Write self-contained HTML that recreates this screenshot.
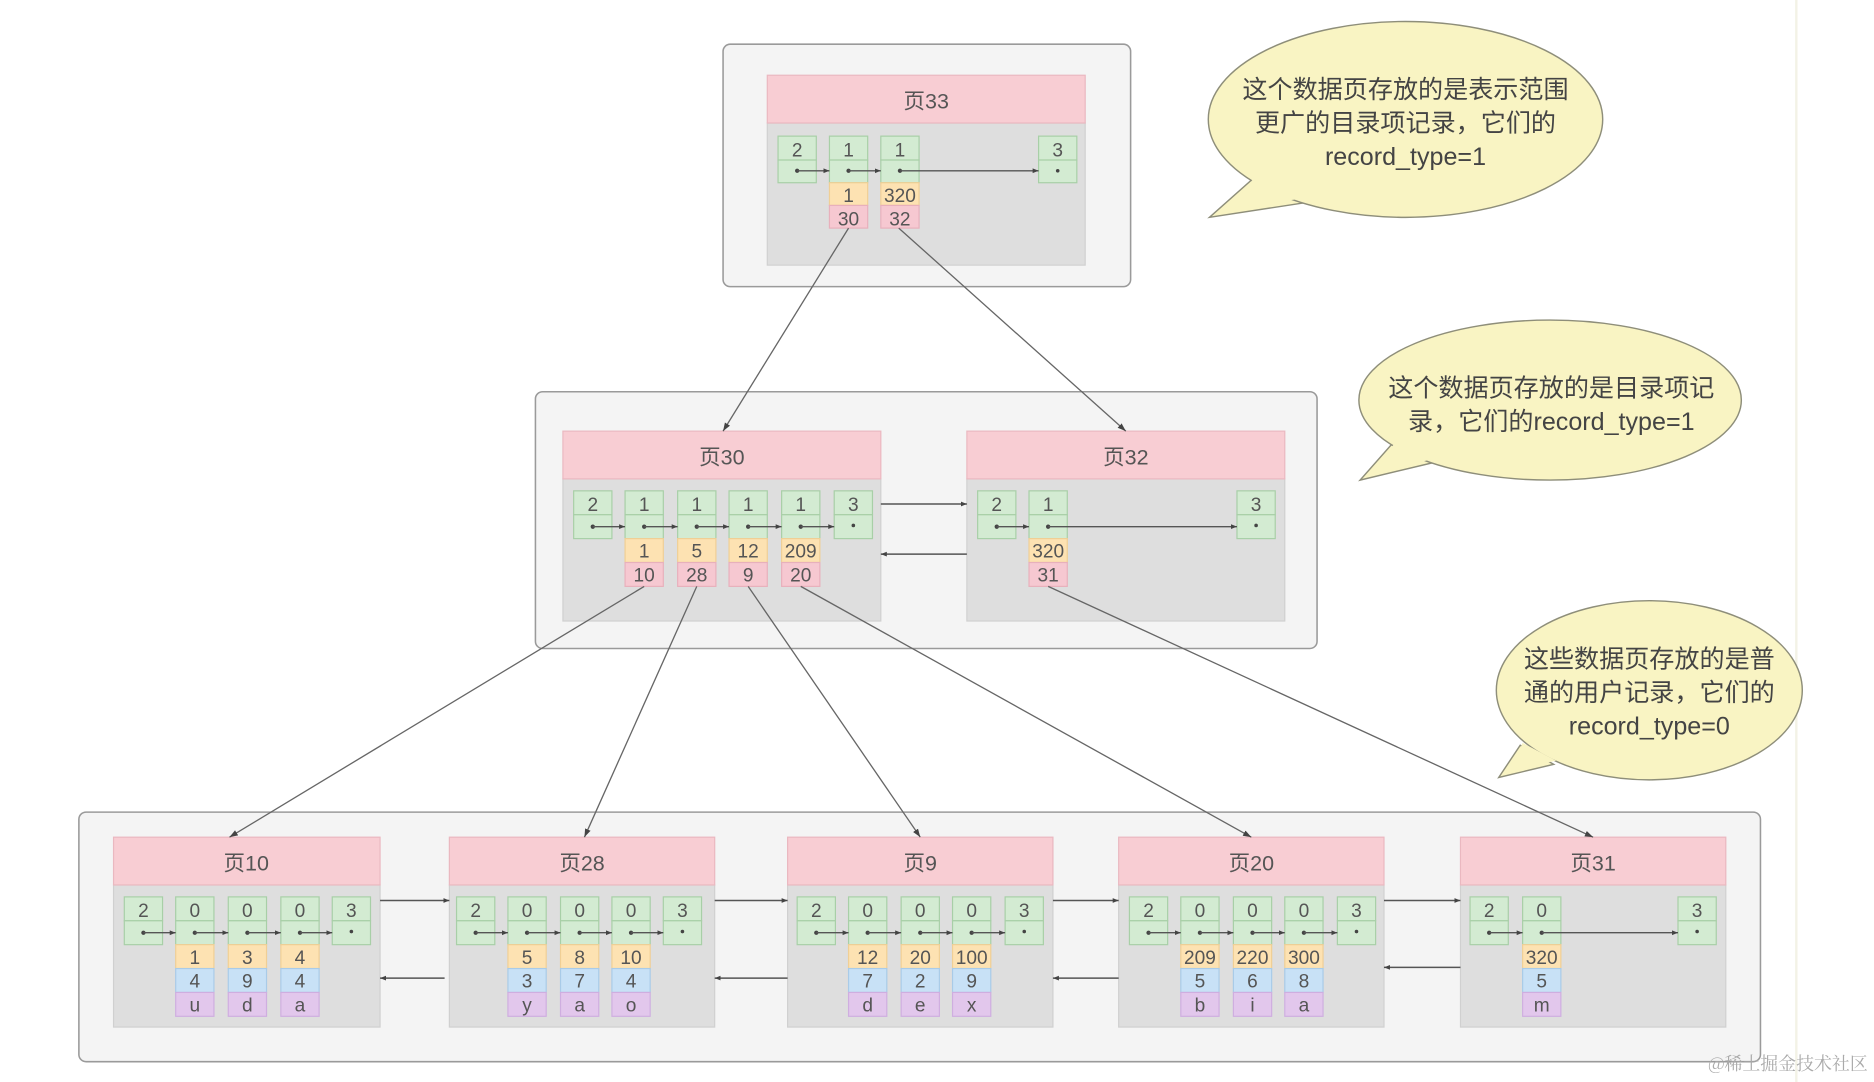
<!DOCTYPE html>
<html><head><meta charset="utf-8">
<style>
html,body{margin:0;padding:0;background:#fff;}
svg{display:block;}
text{font-family:"Liberation Sans","Noto Sans CJK SC",sans-serif;}
.n{font-size:16px;fill:#555;text-anchor:middle;}
.h{font-size:18px;fill:#555;text-anchor:middle;}
.b{font-size:21px;fill:#444;text-anchor:middle;}
.g{fill:#d3ebd2;stroke:#a8cfa7;stroke-width:1;}
.y{fill:#fde2b2;stroke:#f0cf95;stroke-width:1;}
.p{fill:#f6c8d1;stroke:#e8b0bc;stroke-width:1;}
.bl{fill:#c8e1f6;stroke:#a9cbe8;stroke-width:1;}
.pu{fill:#e2c7ec;stroke:#cfaee0;stroke-width:1;}
.l{stroke:#555;stroke-width:1.2;fill:none;}
.c{stroke:#666;stroke-width:1.1;fill:none;}
.bf{fill:#f9f4c3;stroke:#8e8e7a;stroke-width:1.2;}
.bn{fill:#f9f4c3;stroke:none;}
</style></head><body>
<svg width="1874" height="1082" viewBox="0 0 1568 906" preserveAspectRatio="none" xmlns="http://www.w3.org/2000/svg">
<defs>
<marker id="a" markerWidth="8" markerHeight="8" refX="7" refY="4" orient="auto" markerUnits="userSpaceOnUse"><path d="M0,1.5 L7,4 L0,6.5z" fill="#444"/></marker>
<marker id="s" markerWidth="6" markerHeight="6" refX="5" refY="3" orient="auto" markerUnits="userSpaceOnUse"><path d="M0,1 L5,3 L0,5z" fill="#444"/></marker>
</defs>
<rect x="0" y="0" width="1568" height="906" fill="#fff"/>
<line x1="1503" y1="0" x2="1503" y2="906" stroke="#f3f2e6" stroke-width="2"/>

<!-- outer boxes -->
<rect x="605" y="37" width="341" height="203" rx="6" fill="#f4f4f4" stroke="#9a9a9a" stroke-width="1.3"/>
<rect x="448" y="328" width="654" height="215" rx="6" fill="#f4f4f4" stroke="#9a9a9a" stroke-width="1.3"/>
<rect x="66" y="680" width="1407" height="209" rx="6" fill="#f4f4f4" stroke="#9a9a9a" stroke-width="1.3"/>

<!-- page 33 -->
<rect x="642" y="103" width="266" height="119" fill="#dedede" stroke="#d0d0d0"/>
<rect x="642" y="63" width="266" height="40" fill="#f8cdd3" stroke="#eab8c0"/>
<text class="h" x="775" y="91">页33</text>
<g>
<rect class="g" x="651" y="114" width="32" height="20"/><rect class="g" x="651" y="134" width="32" height="19"/><text class="n" x="667" y="131">2</text>
<rect class="g" x="694" y="114" width="32" height="20"/><rect class="g" x="694" y="134" width="32" height="19"/><text class="n" x="710" y="131">1</text>
<rect class="y" x="694" y="153" width="32" height="19"/><text class="n" x="710" y="169">1</text>
<rect class="p" x="694" y="172" width="32" height="19"/><text class="n" x="710" y="189">30</text>
<rect class="g" x="737" y="114" width="32" height="20"/><rect class="g" x="737" y="134" width="32" height="19"/><text class="n" x="753" y="131">1</text>
<rect class="y" x="737" y="153" width="32" height="19"/><text class="n" x="753" y="169">320</text>
<rect class="p" x="737" y="172" width="32" height="19"/><text class="n" x="753" y="189">32</text>
<rect class="g" x="869" y="114" width="32" height="20"/><rect class="g" x="869" y="134" width="32" height="19"/><text class="n" x="885" y="131">3</text>
<circle cx="885" cy="143" r="1.5" fill="#444"/>
<circle cx="667" cy="143" r="1.8" fill="#444"/><line class="l" x1="667" y1="143" x2="694" y2="143" marker-end="url(#s)"/>
<circle cx="710" cy="143" r="1.8" fill="#444"/><line class="l" x1="710" y1="143" x2="737" y2="143" marker-end="url(#s)"/>
<circle cx="753" cy="143" r="1.8" fill="#444"/><line class="l" x1="753" y1="143" x2="869" y2="143" marker-end="url(#s)"/>
</g>

<!-- page 30 -->
<rect x="471" y="401" width="266" height="119" fill="#dedede" stroke="#d0d0d0"/>
<rect x="471" y="361" width="266" height="40" fill="#f8cdd3" stroke="#eab8c0"/>
<text class="h" x="604" y="389">页30</text>
<rect class="g" x="480" y="411" width="32" height="20"/><rect class="g" x="480" y="431" width="32" height="20"/><text class="n" x="496" y="428">2</text>
<rect class="g" x="523" y="411" width="32" height="20"/><rect class="g" x="523" y="431" width="32" height="20"/><text class="n" x="539" y="428">1</text>
<rect class="y" x="523" y="451" width="32" height="20"/><text class="n" x="539" y="467">1</text>
<rect class="p" x="523" y="471" width="32" height="20"/><text class="n" x="539" y="487">10</text>
<rect class="g" x="567" y="411" width="32" height="20"/><rect class="g" x="567" y="431" width="32" height="20"/><text class="n" x="583" y="428">1</text>
<rect class="y" x="567" y="451" width="32" height="20"/><text class="n" x="583" y="467">5</text>
<rect class="p" x="567" y="471" width="32" height="20"/><text class="n" x="583" y="487">28</text>
<rect class="g" x="610" y="411" width="32" height="20"/><rect class="g" x="610" y="431" width="32" height="20"/><text class="n" x="626" y="428">1</text>
<rect class="y" x="610" y="451" width="32" height="20"/><text class="n" x="626" y="467">12</text>
<rect class="p" x="610" y="471" width="32" height="20"/><text class="n" x="626" y="487">9</text>
<rect class="g" x="654" y="411" width="32" height="20"/><rect class="g" x="654" y="431" width="32" height="20"/><text class="n" x="670" y="428">1</text>
<rect class="y" x="654" y="451" width="32" height="20"/><text class="n" x="670" y="467">209</text>
<rect class="p" x="654" y="471" width="32" height="20"/><text class="n" x="670" y="487">20</text>
<rect class="g" x="698" y="411" width="32" height="20"/><rect class="g" x="698" y="431" width="32" height="20"/><text class="n" x="714" y="428">3</text>
<circle cx="714" cy="440" r="1.5" fill="#444"/>
<circle cx="496" cy="441" r="1.8" fill="#444"/><line class="l" x1="496" y1="441" x2="523" y2="441" marker-end="url(#s)"/>
<circle cx="539" cy="441" r="1.8" fill="#444"/><line class="l" x1="539" y1="441" x2="567" y2="441" marker-end="url(#s)"/>
<circle cx="583" cy="441" r="1.8" fill="#444"/><line class="l" x1="583" y1="441" x2="610" y2="441" marker-end="url(#s)"/>
<circle cx="626" cy="441" r="1.8" fill="#444"/><line class="l" x1="626" y1="441" x2="654" y2="441" marker-end="url(#s)"/>
<circle cx="670" cy="441" r="1.8" fill="#444"/><line class="l" x1="670" y1="441" x2="698" y2="441" marker-end="url(#s)"/>

<!-- page 32 -->
<rect x="809" y="401" width="266" height="119" fill="#dedede" stroke="#d0d0d0"/>
<rect x="809" y="361" width="266" height="40" fill="#f8cdd3" stroke="#eab8c0"/>
<text class="h" x="942" y="389">页32</text>
<rect class="g" x="818" y="411" width="32" height="20"/><rect class="g" x="818" y="431" width="32" height="20"/><text class="n" x="834" y="428">2</text>
<rect class="g" x="861" y="411" width="32" height="20"/><rect class="g" x="861" y="431" width="32" height="20"/><text class="n" x="877" y="428">1</text>
<rect class="y" x="861" y="451" width="32" height="20"/><text class="n" x="877" y="467">320</text>
<rect class="p" x="861" y="471" width="32" height="20"/><text class="n" x="877" y="487">31</text>
<rect class="g" x="1035" y="411" width="32" height="20"/><rect class="g" x="1035" y="431" width="32" height="20"/><text class="n" x="1051" y="428">3</text>
<circle cx="1051" cy="440" r="1.5" fill="#444"/>
<circle cx="834" cy="441" r="1.8" fill="#444"/><line class="l" x1="834" y1="441" x2="861" y2="441" marker-end="url(#s)"/>
<circle cx="877" cy="441" r="1.8" fill="#444"/><line class="l" x1="877" y1="441" x2="1035" y2="441" marker-end="url(#s)"/>

<line class="l" x1="737" y1="422" x2="809" y2="422" marker-end="url(#s)"/>
<line class="l" x1="809" y1="464" x2="737" y2="464" marker-end="url(#s)"/>

<!-- bottom pages -->
<g>
<rect x="95" y="741" width="223" height="119" fill="#dedede" stroke="#d0d0d0"/>
<rect x="95" y="701" width="223" height="40" fill="#f8cdd3" stroke="#eab8c0"/>
<text class="h" x="206" y="729">页10</text>
<rect x="376" y="741" width="222" height="119" fill="#dedede" stroke="#d0d0d0"/>
<rect x="376" y="701" width="222" height="40" fill="#f8cdd3" stroke="#eab8c0"/>
<text class="h" x="487" y="729">页28</text>
<rect x="659" y="741" width="222" height="119" fill="#dedede" stroke="#d0d0d0"/>
<rect x="659" y="701" width="222" height="40" fill="#f8cdd3" stroke="#eab8c0"/>
<text class="h" x="770" y="729">页9</text>
<rect x="936" y="741" width="222" height="119" fill="#dedede" stroke="#d0d0d0"/>
<rect x="936" y="701" width="222" height="40" fill="#f8cdd3" stroke="#eab8c0"/>
<text class="h" x="1047" y="729">页20</text>
<rect x="1222" y="741" width="222" height="119" fill="#dedede" stroke="#d0d0d0"/>
<rect x="1222" y="701" width="222" height="40" fill="#f8cdd3" stroke="#eab8c0"/>
<text class="h" x="1333" y="729">页31</text>
</g>

<!-- page10 cells -->
<rect class="g" x="104" y="751" width="32" height="20"/><rect class="g" x="104" y="771" width="32" height="20"/><text class="n" x="120" y="768">2</text>
<rect class="g" x="147" y="751" width="32" height="20"/><rect class="g" x="147" y="771" width="32" height="20"/><text class="n" x="163" y="768">0</text>
<rect class="y" x="147" y="791" width="32" height="20"/><text class="n" x="163" y="807">1</text>
<rect class="bl" x="147" y="811" width="32" height="20"/><text class="n" x="163" y="827">4</text>
<rect class="pu" x="147" y="831" width="32" height="20"/><text class="n" x="163" y="847">u</text>
<rect class="g" x="191" y="751" width="32" height="20"/><rect class="g" x="191" y="771" width="32" height="20"/><text class="n" x="207" y="768">0</text>
<rect class="y" x="191" y="791" width="32" height="20"/><text class="n" x="207" y="807">3</text>
<rect class="bl" x="191" y="811" width="32" height="20"/><text class="n" x="207" y="827">9</text>
<rect class="pu" x="191" y="831" width="32" height="20"/><text class="n" x="207" y="847">d</text>
<rect class="g" x="235" y="751" width="32" height="20"/><rect class="g" x="235" y="771" width="32" height="20"/><text class="n" x="251" y="768">0</text>
<rect class="y" x="235" y="791" width="32" height="20"/><text class="n" x="251" y="807">4</text>
<rect class="bl" x="235" y="811" width="32" height="20"/><text class="n" x="251" y="827">4</text>
<rect class="pu" x="235" y="831" width="32" height="20"/><text class="n" x="251" y="847">a</text>
<rect class="g" x="278" y="751" width="32" height="20"/><rect class="g" x="278" y="771" width="32" height="20"/><text class="n" x="294" y="768">3</text>
<circle cx="294" cy="780" r="1.5" fill="#444"/>
<circle cx="120" cy="781" r="1.8" fill="#444"/><line class="l" x1="120" y1="781" x2="147" y2="781" marker-end="url(#s)"/>
<circle cx="163" cy="781" r="1.8" fill="#444"/><line class="l" x1="163" y1="781" x2="191" y2="781" marker-end="url(#s)"/>
<circle cx="207" cy="781" r="1.8" fill="#444"/><line class="l" x1="207" y1="781" x2="235" y2="781" marker-end="url(#s)"/>
<circle cx="251" cy="781" r="1.8" fill="#444"/><line class="l" x1="251" y1="781" x2="278" y2="781" marker-end="url(#s)"/>

<!-- page28 cells -->
<rect class="g" x="382" y="751" width="32" height="20"/><rect class="g" x="382" y="771" width="32" height="20"/><text class="n" x="398" y="768">2</text>
<rect class="g" x="425" y="751" width="32" height="20"/><rect class="g" x="425" y="771" width="32" height="20"/><text class="n" x="441" y="768">0</text>
<rect class="y" x="425" y="791" width="32" height="20"/><text class="n" x="441" y="807">5</text>
<rect class="bl" x="425" y="811" width="32" height="20"/><text class="n" x="441" y="827">3</text>
<rect class="pu" x="425" y="831" width="32" height="20"/><text class="n" x="441" y="847">y</text>
<rect class="g" x="469" y="751" width="32" height="20"/><rect class="g" x="469" y="771" width="32" height="20"/><text class="n" x="485" y="768">0</text>
<rect class="y" x="469" y="791" width="32" height="20"/><text class="n" x="485" y="807">8</text>
<rect class="bl" x="469" y="811" width="32" height="20"/><text class="n" x="485" y="827">7</text>
<rect class="pu" x="469" y="831" width="32" height="20"/><text class="n" x="485" y="847">a</text>
<rect class="g" x="512" y="751" width="32" height="20"/><rect class="g" x="512" y="771" width="32" height="20"/><text class="n" x="528" y="768">0</text>
<rect class="y" x="512" y="791" width="32" height="20"/><text class="n" x="528" y="807">10</text>
<rect class="bl" x="512" y="811" width="32" height="20"/><text class="n" x="528" y="827">4</text>
<rect class="pu" x="512" y="831" width="32" height="20"/><text class="n" x="528" y="847">o</text>
<rect class="g" x="555" y="751" width="32" height="20"/><rect class="g" x="555" y="771" width="32" height="20"/><text class="n" x="571" y="768">3</text>
<circle cx="571" cy="780" r="1.5" fill="#444"/>
<circle cx="398" cy="781" r="1.8" fill="#444"/><line class="l" x1="398" y1="781" x2="425" y2="781" marker-end="url(#s)"/>
<circle cx="441" cy="781" r="1.8" fill="#444"/><line class="l" x1="441" y1="781" x2="469" y2="781" marker-end="url(#s)"/>
<circle cx="485" cy="781" r="1.8" fill="#444"/><line class="l" x1="485" y1="781" x2="512" y2="781" marker-end="url(#s)"/>
<circle cx="528" cy="781" r="1.8" fill="#444"/><line class="l" x1="528" y1="781" x2="555" y2="781" marker-end="url(#s)"/>

<!-- page9 cells -->
<rect class="g" x="667" y="751" width="32" height="20"/><rect class="g" x="667" y="771" width="32" height="20"/><text class="n" x="683" y="768">2</text>
<rect class="g" x="710" y="751" width="32" height="20"/><rect class="g" x="710" y="771" width="32" height="20"/><text class="n" x="726" y="768">0</text>
<rect class="y" x="710" y="791" width="32" height="20"/><text class="n" x="726" y="807">12</text>
<rect class="bl" x="710" y="811" width="32" height="20"/><text class="n" x="726" y="827">7</text>
<rect class="pu" x="710" y="831" width="32" height="20"/><text class="n" x="726" y="847">d</text>
<rect class="g" x="754" y="751" width="32" height="20"/><rect class="g" x="754" y="771" width="32" height="20"/><text class="n" x="770" y="768">0</text>
<rect class="y" x="754" y="791" width="32" height="20"/><text class="n" x="770" y="807">20</text>
<rect class="bl" x="754" y="811" width="32" height="20"/><text class="n" x="770" y="827">2</text>
<rect class="pu" x="754" y="831" width="32" height="20"/><text class="n" x="770" y="847">e</text>
<rect class="g" x="797" y="751" width="32" height="20"/><rect class="g" x="797" y="771" width="32" height="20"/><text class="n" x="813" y="768">0</text>
<rect class="y" x="797" y="791" width="32" height="20"/><text class="n" x="813" y="807">100</text>
<rect class="bl" x="797" y="811" width="32" height="20"/><text class="n" x="813" y="827">9</text>
<rect class="pu" x="797" y="831" width="32" height="20"/><text class="n" x="813" y="847">x</text>
<rect class="g" x="841" y="751" width="32" height="20"/><rect class="g" x="841" y="771" width="32" height="20"/><text class="n" x="857" y="768">3</text>
<circle cx="857" cy="780" r="1.5" fill="#444"/>
<circle cx="683" cy="781" r="1.8" fill="#444"/><line class="l" x1="683" y1="781" x2="710" y2="781" marker-end="url(#s)"/>
<circle cx="726" cy="781" r="1.8" fill="#444"/><line class="l" x1="726" y1="781" x2="754" y2="781" marker-end="url(#s)"/>
<circle cx="770" cy="781" r="1.8" fill="#444"/><line class="l" x1="770" y1="781" x2="797" y2="781" marker-end="url(#s)"/>
<circle cx="813" cy="781" r="1.8" fill="#444"/><line class="l" x1="813" y1="781" x2="841" y2="781" marker-end="url(#s)"/>

<!-- page20 cells -->
<rect class="g" x="945" y="751" width="32" height="20"/><rect class="g" x="945" y="771" width="32" height="20"/><text class="n" x="961" y="768">2</text>
<rect class="g" x="988" y="751" width="32" height="20"/><rect class="g" x="988" y="771" width="32" height="20"/><text class="n" x="1004" y="768">0</text>
<rect class="y" x="988" y="791" width="32" height="20"/><text class="n" x="1004" y="807">209</text>
<rect class="bl" x="988" y="811" width="32" height="20"/><text class="n" x="1004" y="827">5</text>
<rect class="pu" x="988" y="831" width="32" height="20"/><text class="n" x="1004" y="847">b</text>
<rect class="g" x="1032" y="751" width="32" height="20"/><rect class="g" x="1032" y="771" width="32" height="20"/><text class="n" x="1048" y="768">0</text>
<rect class="y" x="1032" y="791" width="32" height="20"/><text class="n" x="1048" y="807">220</text>
<rect class="bl" x="1032" y="811" width="32" height="20"/><text class="n" x="1048" y="827">6</text>
<rect class="pu" x="1032" y="831" width="32" height="20"/><text class="n" x="1048" y="847">i</text>
<rect class="g" x="1075" y="751" width="32" height="20"/><rect class="g" x="1075" y="771" width="32" height="20"/><text class="n" x="1091" y="768">0</text>
<rect class="y" x="1075" y="791" width="32" height="20"/><text class="n" x="1091" y="807">300</text>
<rect class="bl" x="1075" y="811" width="32" height="20"/><text class="n" x="1091" y="827">8</text>
<rect class="pu" x="1075" y="831" width="32" height="20"/><text class="n" x="1091" y="847">a</text>
<rect class="g" x="1119" y="751" width="32" height="20"/><rect class="g" x="1119" y="771" width="32" height="20"/><text class="n" x="1135" y="768">3</text>
<circle cx="1135" cy="780" r="1.5" fill="#444"/>
<circle cx="961" cy="781" r="1.8" fill="#444"/><line class="l" x1="961" y1="781" x2="988" y2="781" marker-end="url(#s)"/>
<circle cx="1004" cy="781" r="1.8" fill="#444"/><line class="l" x1="1004" y1="781" x2="1032" y2="781" marker-end="url(#s)"/>
<circle cx="1048" cy="781" r="1.8" fill="#444"/><line class="l" x1="1048" y1="781" x2="1075" y2="781" marker-end="url(#s)"/>
<circle cx="1091" cy="781" r="1.8" fill="#444"/><line class="l" x1="1091" y1="781" x2="1119" y2="781" marker-end="url(#s)"/>

<!-- page31 cells -->
<rect class="g" x="1230" y="751" width="32" height="20"/><rect class="g" x="1230" y="771" width="32" height="20"/><text class="n" x="1246" y="768">2</text>
<rect class="g" x="1274" y="751" width="32" height="20"/><rect class="g" x="1274" y="771" width="32" height="20"/><text class="n" x="1290" y="768">0</text>
<rect class="y" x="1274" y="791" width="32" height="20"/><text class="n" x="1290" y="807">320</text>
<rect class="bl" x="1274" y="811" width="32" height="20"/><text class="n" x="1290" y="827">5</text>
<rect class="pu" x="1274" y="831" width="32" height="20"/><text class="n" x="1290" y="847">m</text>
<rect class="g" x="1404" y="751" width="32" height="20"/><rect class="g" x="1404" y="771" width="32" height="20"/><text class="n" x="1420" y="768">3</text>
<circle cx="1420" cy="780" r="1.5" fill="#444"/>
<circle cx="1246" cy="781" r="1.8" fill="#444"/><line class="l" x1="1246" y1="781" x2="1274" y2="781" marker-end="url(#s)"/>
<circle cx="1290" cy="781" r="1.8" fill="#444"/><line class="l" x1="1290" y1="781" x2="1404" y2="781" marker-end="url(#s)"/>

<!-- sibling arrows -->
<line class="l" x1="318" y1="754" x2="376" y2="754" marker-end="url(#s)"/>
<line class="l" x1="372" y1="819" x2="318" y2="819" marker-end="url(#s)"/>
<line class="l" x1="598" y1="754" x2="659" y2="754" marker-end="url(#s)"/>
<line class="l" x1="659" y1="819" x2="598" y2="819" marker-end="url(#s)"/>
<line class="l" x1="881" y1="754" x2="936" y2="754" marker-end="url(#s)"/>
<line class="l" x1="936" y1="819" x2="881" y2="819" marker-end="url(#s)"/>
<line class="l" x1="1158" y1="754" x2="1222" y2="754" marker-end="url(#s)"/>
<line class="l" x1="1222" y1="810" x2="1158" y2="810" marker-end="url(#s)"/>

<!-- tree connectors -->
<line class="c" x1="710" y1="191" x2="605" y2="361" marker-end="url(#a)"/>
<line class="c" x1="752" y1="191" x2="942" y2="361" marker-end="url(#a)"/>
<line class="c" x1="539" y1="491" x2="192" y2="701" marker-end="url(#a)"/>
<line class="c" x1="583" y1="491" x2="489" y2="701" marker-end="url(#a)"/>
<line class="c" x1="626" y1="491" x2="770" y2="701" marker-end="url(#a)"/>
<line class="c" x1="670" y1="491" x2="1047" y2="701" marker-end="url(#a)"/>
<line class="c" x1="877" y1="491" x2="1333" y2="701" marker-end="url(#a)"/>

<!-- bubbles -->
<polygon class="bf" points="1048,150 1090,170 1012,182"/>
<ellipse class="bf" cx="1176" cy="100" rx="165" ry="82"/>
<polygon class="bn" points="1050,148 1092,166 1030,174"/>
<text class="b" x="1176" y="82">这个数据页存放的是表示范围</text>
<text class="b" x="1176" y="110">更广的目录项记录，它们的</text>
<text class="b" x="1176" y="138">record_type=1</text>

<polygon class="bf" points="1168,368 1205,386 1138,402"/>
<ellipse class="bf" cx="1297" cy="335" rx="160" ry="67"/>
<polygon class="bn" points="1170,366 1207,383 1152,394"/>
<text class="b" x="1298" y="332">这个数据页存放的是目录项记</text>
<text class="b" x="1298" y="360">录，它们的record_type=1</text>

<polygon class="bf" points="1272,624 1300,640 1254,651"/>
<ellipse class="bf" cx="1380" cy="578" rx="128" ry="75"/>
<polygon class="bn" points="1274,622 1302,637 1264,645"/>
<text class="b" x="1380" y="559">这些数据页存放的是普</text>
<text class="b" x="1380" y="587">通的用户记录，它们的</text>
<text class="b" x="1380" y="615">record_type=0</text>

<text x="1496" y="896" style="font-size:15px;fill:#aaa;text-anchor:middle;font-family:'Noto Serif CJK SC',serif;">@稀土掘金技术社区</text>
</svg>
</body></html>
